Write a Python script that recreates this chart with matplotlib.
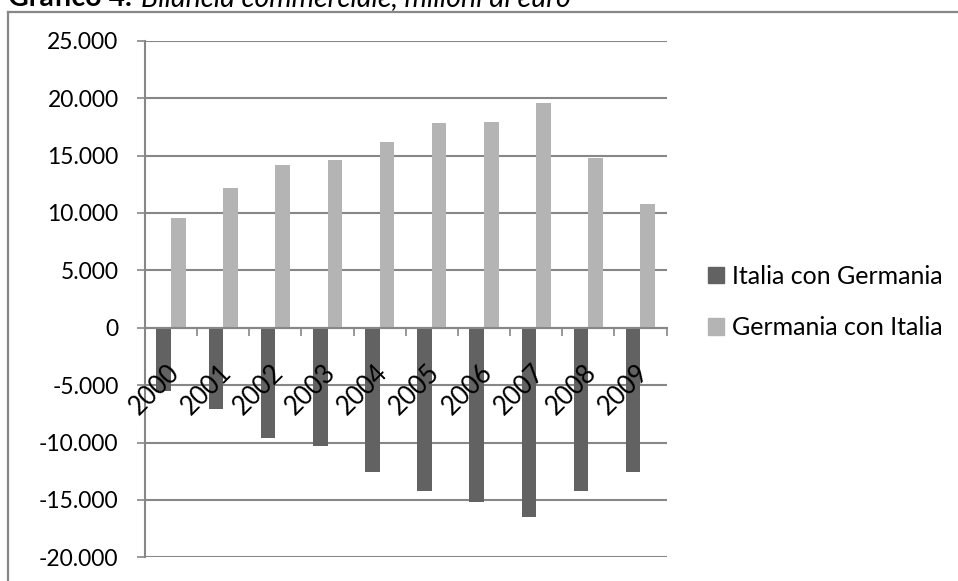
import numpy as np
import matplotlib.pyplot as plt
from matplotlib.lines import Line2D
from matplotlib.patches import Patch

# Bilancia commerciale, milioni di euro
anni = ['2000', '2001', '2002', '2003', '2004', '2005', '2006', '2007', '2008', '2009']
italia_con_germania = [-5550, -7100, -9600, -10300, -12600, -14200, -15200, -16500, -14200, -12600]
germania_con_italia = [9550, 12200, 14150, 14600, 16200, 17800, 17900, 19600, 14800, 10800]

dark = '#626262'
light = '#b4b4b4'
grid_col = '#878787'

plt.rcParams['font.family'] = ['Lato', 'DejaVu Sans']

W, H = 958, 581
fig = plt.figure(figsize=(W / 100, H / 100), dpi=100)

# plot area in pixels
left, right, top, bottom = 145, 666.5, 40.7, 557.3
ax = fig.add_axes([left / W, 1 - bottom / H, (right - left) / W, (bottom - top) / H])

x = np.arange(len(anni))
w = 0.28
ax.bar(x - w / 2, italia_con_germania, w, color=dark, label='Italia con Germania', zorder=3)
ax.bar(x + w / 2, germania_con_italia, w, color=light, label='Germania con Italia', zorder=3)

ax.set_xlim(-0.5, len(anni) - 0.5)
ax.set_ylim(-20000, 25000)
ax.set_yticks(np.arange(-20000, 25001, 5000))
ax.set_yticklabels([f'{v:,}'.replace(',', '.') for v in range(-20000, 25001, 5000)])
ax.yaxis.grid(True, color=grid_col, linewidth=1.5, zorder=1)

for s in ['top', 'right']:
    ax.spines[s].set_visible(False)
ax.spines['left'].set_color(grid_col)
ax.spines['left'].set_linewidth(1.5)
ax.spines['bottom'].set_position(('data', 0))
ax.spines['bottom'].set_color(grid_col)
ax.spines['bottom'].set_linewidth(1.5)
ax.spines['bottom'].set_zorder(4)

ax.tick_params(axis='y', length=6, width=1.2, color=grid_col, pad=13, labelsize=16.5)
ax.set_xticks([])
ax.set_xticks(np.arange(-0.5, len(anni)), minor=True)
ax.tick_params(axis='x', which='minor', length=6, width=1.2, color=grid_col)

# year labels drawn over the bars, as in the source
for i, a in enumerate(anni):
    ax.text(i + 0.08, -3550, a, rotation=45, ha='right', va='center',
            rotation_mode='anchor', fontsize=18.5, zorder=6)

handles = [Patch(color=dark), Patch(color=light)]
fig.legend(handles, ['Italia con Germania', 'Germania con Italia'],
           loc='center left', bbox_to_anchor=(708 / W, 1 - 302 / H),
           frameon=False, fontsize=18, handlelength=0.65, handleheight=0.65,
           handletextpad=0.3, labelspacing=1.15, borderpad=0, borderaxespad=0)

# outer frame of the chart
fig.add_artist(Line2D([8 / W, 1], [1 - 12 / H, 1 - 12 / H], color=grid_col, lw=1.6))
fig.add_artist(Line2D([8 / W, 8 / W], [1 - 12 / H, 0], color=grid_col, lw=1.6))

# title, cut at the top as in the source
t1 = fig.text(8 / W, 1 - 6 / H, 'Grafico 4.', fontsize=20.5, fontweight='bold', va='baseline')
fig.canvas.draw()
bb = t1.get_window_extent()
fig.text((bb.x1 + 9) / W, 1 - 6 / H, 'Bilancia commerciale, milioni di euro', fontsize=20.5,
         style='italic', va='baseline')

fig.savefig('out.png', dpi=100)
